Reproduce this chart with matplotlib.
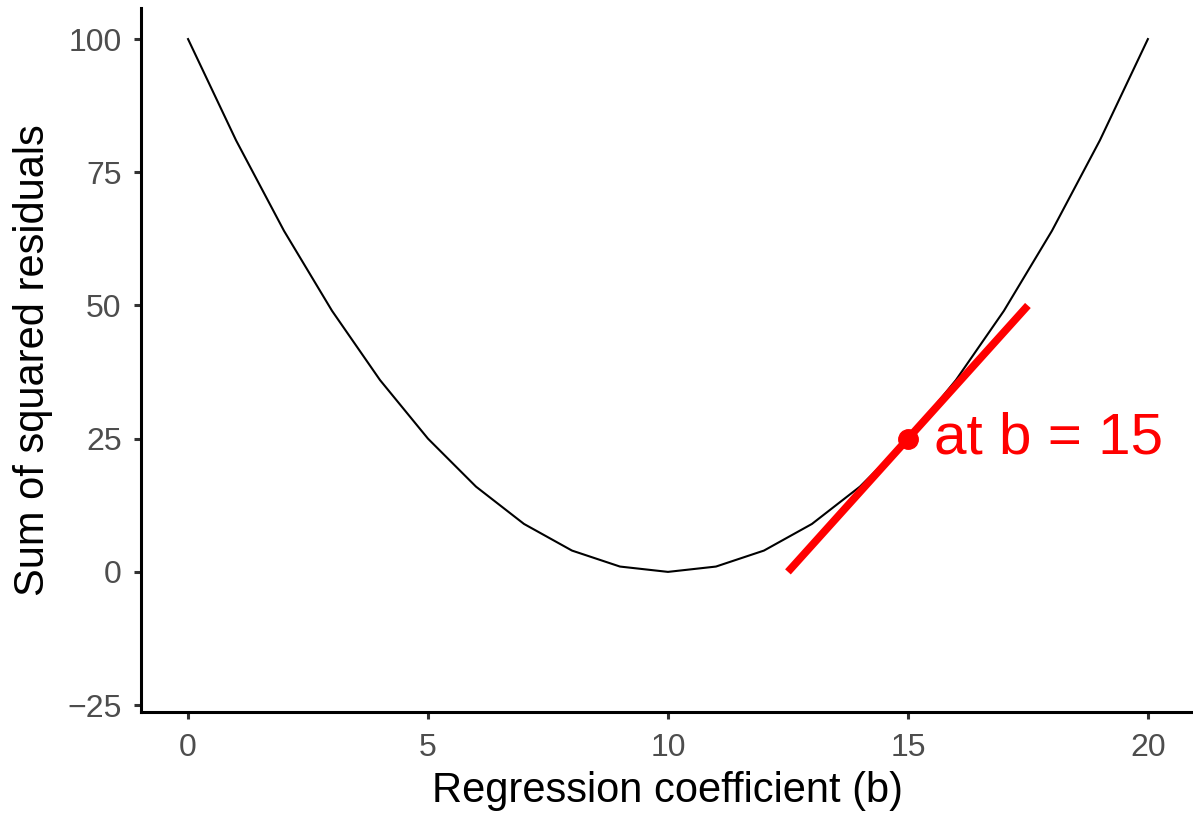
import matplotlib
matplotlib.use('Agg')
import matplotlib.pyplot as plt

plt.rcParams['font.family'] = ['Liberation Sans', 'DejaVu Sans']

# sum of squared residuals for each candidate coefficient
b_values = [0, 1, 2, 3, 4, 5, 6, 7, 8, 9, 10, 11, 12, 13, 14, 15, 16, 17, 18, 19, 20]
ssr_values = [100, 81, 64, 49, 36, 25, 16, 9, 4, 1, 0, 1, 4, 9, 16, 25, 36, 49, 64, 81, 100]

# tangent at b = 15
tangent_b = [12.5, 17.5]
tangent_ssr = [0, 50]
point_b = 15
point_ssr = 25
label = 'at b = 15'

fig = plt.figure(figsize=(11.93, 8.17), dpi=100)
ax = fig.add_axes([0.1182, 0.1285, 0.8818, 0.8615])

ax.plot(b_values, ssr_values, color='black', linewidth=1.5)
ax.plot(tangent_b, tangent_ssr, color='#FF0000', linewidth=5.5, solid_capstyle='butt')
ax.plot([point_b], [point_ssr], 'o', color='#FF0000', markersize=14)
ax.text(point_b + 0.55, point_ssr, label, color='#FF0000', fontsize=42,
        ha='left', va='center')

ax.set_xlim(-0.98, 20.94)
ax.set_ylim(-26.3, 105.8)
ax.set_xticks([0, 5, 10, 15, 20])
ax.set_yticks([-25, 0, 25, 50, 75, 100])
ax.set_yticklabels(['\u221225', '0', '25', '50', '75', '100'])

for side in ['top', 'right']:
    ax.spines[side].set_visible(False)
for side in ['left', 'bottom']:
    ax.spines[side].set_linewidth(2.2)
    ax.spines[side].set_color('black')

ax.tick_params(axis='both', length=5, width=2.2, color='#333333',
               labelcolor='#4D4D4D', labelsize=23)
ax.tick_params(axis='y', pad=9)
ax.tick_params(axis='x', pad=10)

ax.set_xlabel('Regression coefficient (b)', fontsize=30, labelpad=6)
ax.set_ylabel('Sum of squared residuals', fontsize=30, labelpad=10)

fig.savefig('out.png', dpi=100)
